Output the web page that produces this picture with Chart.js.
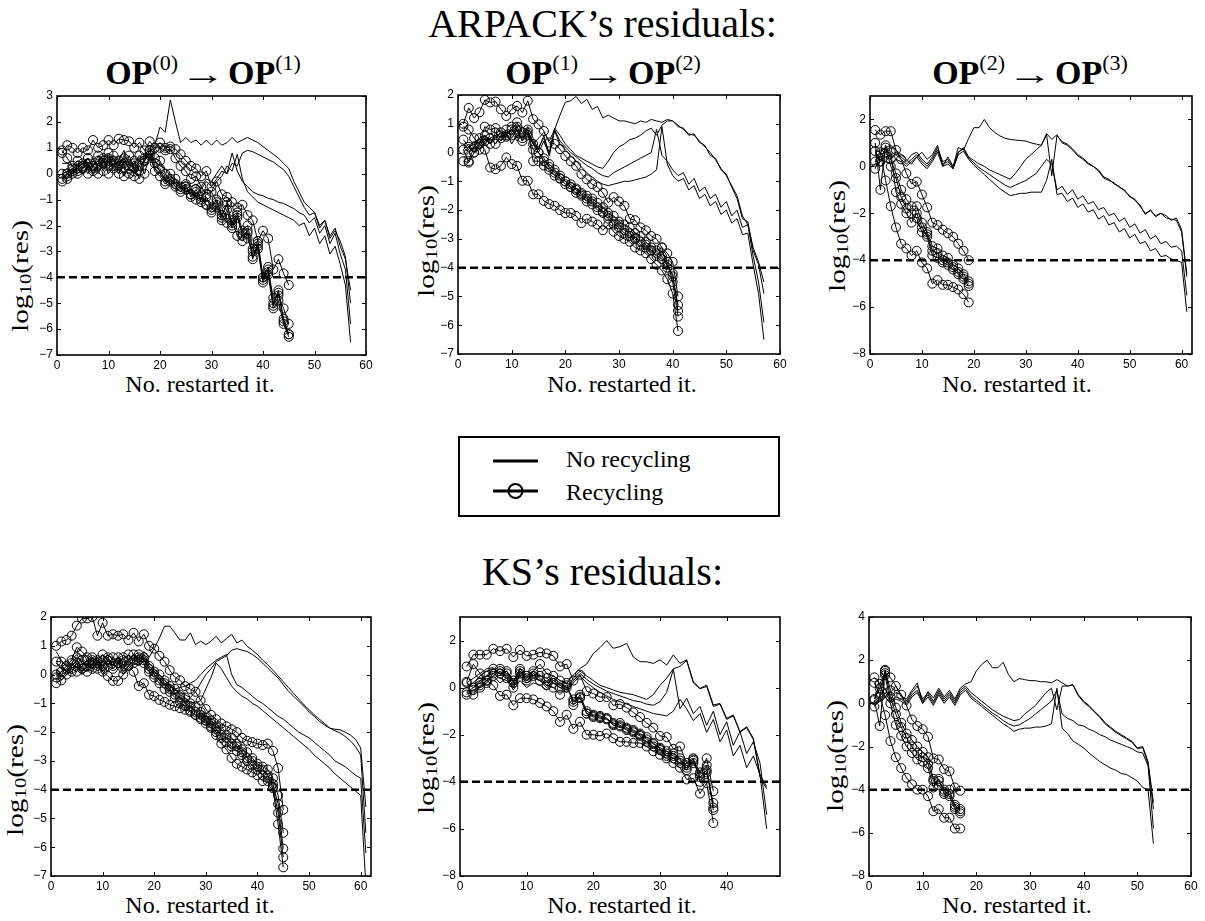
<!DOCTYPE html>
<html>
<head>
<meta charset="utf-8">
<script src="https://cdn.jsdelivr.net/npm/chart.js@4.4.0/dist/chart.umd.min.js"></script>
<style>
  body { margin: 0; background: #fff; }
  #page { position: relative; width: 1205px; height: 921px; overflow: hidden;
          font-family: 'Liberation Serif', 'Times New Roman', serif; color: #000; }
  .big { position: absolute; left: 0; width: 1205px; text-align: center; font-size: 40px; line-height: 40px; }
  .sub { position: absolute; width: 400px; text-align: center; font-size: 34px; line-height: 34px; white-space: nowrap; }
  .sub sup { font-size: 22px; vertical-align: 0; position: relative; top: -14px; font-weight: normal; }
  .sub .arr { display: inline-block; transform: scaleX(1.5); margin: 0 10px; font-size: 30px; }
  .xl { position: absolute; width: 300px; text-align: center; font-size: 24px; line-height: 24px; white-space: nowrap; }
  .yl { position: absolute; font-size: 24px; line-height: 24px; white-space: nowrap;
        transform: translate(-50%, -50%) rotate(-90deg) scaleX(1.22); }
  .yl sub { font-size: 17px; vertical-align: -3px; }
  canvas { position: absolute; }
</style>
</head>
<body>
<div id="page">
  <div class="big" style="top:4px">ARPACK’s residuals:</div>
  <div class="sub" style="left:3px;top:56px"><b>OP</b><sup>(0)</sup><span class="arr">→</span><b>OP</b><sup>(1)</sup></div>
  <div class="sub" style="left:403px;top:56px"><b>OP</b><sup>(1)</sup><span class="arr">→</span><b>OP</b><sup>(2)</sup></div>
  <div class="sub" style="left:830px;top:56px"><b>OP</b><sup>(2)</sup><span class="arr">→</span><b>OP</b><sup>(3)</sup></div>

  <div class="xl" style="left:50px;top:372px">No. restarted it.</div>
  <div class="xl" style="left:472px;top:372px">No. restarted it.</div>
  <div class="xl" style="left:867px;top:372px">No. restarted it.</div>

  <div class="yl" style="left:23px;top:276px">log<sub>10</sub>(res)</div>
  <div class="yl" style="left:429px;top:241px">log<sub>10</sub>(res)</div>
  <div class="yl" style="left:840px;top:236px">log<sub>10</sub>(res)</div>

  <svg style="position:absolute;left:458px;top:436px" width="322" height="81">
    <rect x="1" y="1" width="320" height="79" fill="#fff" stroke="#000" stroke-width="2"/>
    <line x1="35" y1="25" x2="80" y2="25" stroke="#000" stroke-width="3"/>
    <line x1="35" y1="55" x2="80" y2="55" stroke="#000" stroke-width="3"/>
    <circle cx="57.5" cy="55" r="7" fill="none" stroke="#000" stroke-width="2"/>
    <text x="108" y="31" font-family="Liberation Serif" font-size="24">No recycling</text>
    <text x="108" y="64" font-family="Liberation Serif" font-size="24">Recycling</text>
  </svg>

  <div class="big" style="top:552px">KS’s residuals:</div>

  <div class="xl" style="left:50px;top:893px">No. restarted it.</div>
  <div class="xl" style="left:472px;top:893px">No. restarted it.</div>
  <div class="xl" style="left:867px;top:893px">No. restarted it.</div>

  <div class="yl" style="left:18px;top:780px">log<sub>10</sub>(res)</div>
  <div class="yl" style="left:429px;top:758px">log<sub>10</sub>(res)</div>
  <div class="yl" style="left:838px;top:756px">log<sub>10</sub>(res)</div>
</div>

<script>
// tolerance line
const tolLevel = -4;

// tick labels
const xTicks60 = [0, 10, 20, 30, 40, 50, 60];
const xTicks40 = [0, 10, 20, 30, 40];
const yTicksM7to3 = [-7, -6, -5, -4, -3, -2, -1, 0, 1, 2, 3];
const yTicksM7to2 = [-7, -6, -5, -4, -3, -2, -1, 0, 1, 2];
const yTicksM8to2 = [-8, -6, -4, -2, 0, 2];
const yTicksM8to4 = [-8, -6, -4, -2, 0, 2, 4];

// ARPACK, OP(0) -> OP(1): log10 residual per restarted iteration (x = 1, 2, ...)
const arp01Plain = [
  [0.0,0.1,0.2,0.35,0.5,0.3,0.6,0.2,0.5,0.7, 0.3,0.5,0.9,0.3,0.4,0.6,0.7,1.0,1.1,1.8, 1.6,2.85,2.0,1.2,1.4,1.2,1.3,1.1,1.3,1.1, 1.3,1.1,1.2,1.4,1.2,1.3,1.4,1.3,1.2,1.05, 0.9,0.75,0.6,0.4,0.2,-0.3,-0.7,-1.1,-1.3,-1.5, -2.0,-1.8,-2.5,-2.2,-2.6,-3.2,-5.0],
  [0.4,0.4,0.3,0.5,0.4,0.6,0.3,0.5,0.7,0.4, 0.6,0.3,0.7,0.4,0.2,0.5,0.6,0.9,0.5,0.3, 0.2,-0.1,-0.2,-0.4,-0.3,-0.5,-0.4,-0.6,-0.3,-0.5, -0.2,0.1,0.0,0.4,0.3,0.8,0.9,0.85,0.75,0.65, 0.55,0.45,0.3,0.15,-0.1,-0.5,-0.9,-1.3,-1.6,-1.5, -2.1,-1.8,-2.4,-2.1,-2.8,-3.3,-4.5],
  [-0.2,0.0,0.1,0.2,0.0,0.3,0.1,0.4,0.2,0.5, 0.1,0.4,0.6,0.2,0.0,0.3,0.5,0.8,0.3,0.1, -0.2,-0.3,-0.5,-0.4,-0.7,-0.6,-0.9,-0.5,-0.2,-0.3, 0.0,0.3,0.0,0.8,0.1,-0.3,-0.5,-0.7,-0.8,-0.85, -0.95,-1.0,-1.1,-1.15,-1.25,-1.35,-1.5,-1.6,-1.9,-1.7, -2.3,-2.0,-2.7,-2.3,-3.1,-3.7,-5.8],
  [0.1,0.2,0.0,0.3,0.2,0.4,0.0,0.3,0.5,0.2, 0.4,0.0,0.5,0.2,0.1,0.4,0.3,0.6,0.2,0.0, -0.3,-0.4,-0.6,-0.5,-0.8,-0.7,-0.9,-1.0,-0.6,-0.7, -0.3,-0.1,0.3,0.1,0.75,-0.2,-0.7,-0.9,-1.1,-1.2, -1.3,-1.4,-1.5,-1.6,-1.7,-1.8,-2.0,-1.9,-2.4,-2.1, -2.7,-2.4,-3.1,-2.8,-3.5,-4.3,-6.5]
];
const arp01Rec = [
  [0.8,1.1,1.0,0.8,1.0,0.9,1.3,1.0,1.1,1.3, 1.1,1.35,1.3,1.25,1.0,1.2,0.9,1.25,1.0,1.2, 1.0,1.05,0.95,0.75,0.5,0.3,0.2,-0.1,0.1,-0.5, -0.3,-0.8,-0.9,-1.1,-1.3,-1.2,-1.6,-1.8,-2.6,-2.2, -2.5,-3.7,-3.3,-3.85,-4.3],
  [0.9,0.6,0.3,0.5,0.2,0.6,0.3,0.7,0.4,0.8, 0.5,0.3,0.6,0.2,0.4,0.7,0.5,0.9,1.0,1.0, 0.9,0.95,0.6,0.3,0.1,-0.2,-0.1,-0.5,-0.8,-0.7, -1.1,-1.6,-1.2,-1.9,-1.5,-2.2,-2.0,-2.9,-2.6,-4.0, -3.6,-5.1,-4.5,-5.6,-6.2],
  [-0.3,-0.1,0.0,0.2,0.4,0.0,0.3,0.5,0.1,0.6, 0.2,0.0,0.4,0.7,0.2,-0.2,0.5,0.9,0.4,0.2, -0.3,0.0,-0.4,-0.5,-0.6,-0.8,-0.7,-1.1,-0.9,-1.4, -1.2,-1.7,-1.1,-2.0,-1.6,-2.4,-2.2,-3.2,-2.8,-4.1, -3.9,-5.2,-4.9,-5.8,-6.3],
  [-0.2,0.0,0.2,0.1,0.3,0.6,0.2,0.0,0.5,0.3, 0.7,0.4,-0.1,0.3,0.5,0.1,0.6,0.8,0.1,-0.1, -0.4,-0.2,-0.5,-0.7,-0.4,-0.9,-0.6,-1.0,-1.2,-1.5, -1.3,-1.8,-1.4,-2.1,-1.7,-2.3,-2.5,-3.0,-2.9,-4.2, -3.7,-4.8,-4.7,-5.2,-5.8],
  [0.0,-0.2,0.1,0.0,0.2,0.4,0.1,0.3,0.6,0.0, 0.3,0.5,0.2,0.0,-0.1,0.3,0.0,0.7,0.6,0.5, 0.0,-0.3,-0.2,-0.6,-0.5,-0.8,-1.0,-0.9,-1.2,-1.3, -1.0,-1.6,-1.9,-1.8,-2.4,-2.6,-2.3,-3.3,-2.7,-4.0, -3.8,-5.0,-4.6,-5.7,-6.2]
];

// ARPACK, OP(1) -> OP(2)
const arp12Plain = [
  [0.0,0.2,0.3,0.1,0.4,0.5,0.6,0.4,0.7,0.8, 0.5,0.9,0.6,0.3,0.5,0.7,0.4,0.8, 1.3,1.75,1.8,1.95,1.7,1.85,1.5,1.6,1.2,1.3, 1.2,1.1,1.1,1.05,1.0,1.1,1.05,1.15,1.1,1.05, 1.15, 1.1,0.9,0.85,0.6,0.65,0.35,0.25,-0.1,-0.2,-0.6, -0.75,-1.2,-1.6,-2.3,-2.4,-3.4,-3.9,-4.9],
  [0.3,0.1,0.4,0.3,0.6,0.4,0.5,0.7,0.6,0.5, 0.8,0.4,0.9,0.5,0.1,0.6,-0.1,0.85, 0.6,0.3,0.1,-0.1,-0.2,-0.3,-0.4,-0.5,-0.55,-0.3, 0.0,0.2,0.3,0.45,0.5,0.6,0.75,0.85,0.6,0.95, 1.1,1.1, 0.95,0.8,0.65,0.6,0.4,0.2,0.0,-0.25,-0.55,-0.8, -1.15,-1.5,-2.2,-2.5,-3.3,-3.8,-4.5],
  [-0.2,0.0,0.2,0.4,0.3,0.5,0.3,0.6,0.5,0.7, 0.4,0.6,0.8,0.3,0.2,0.5,0.0,0.8, 0.4,0.2,0.0,-0.15,-0.3,-0.45,-0.55,-0.7, -0.8,-0.85,-0.7,-0.6,-0.5,-0.4,-0.3,-0.2,-0.1,0.0, 0.8,-0.1,-0.3,-0.6,-0.8,-0.7,-1.1,-0.9,-1.35,-1.2, -1.6,-1.45,-1.9,-1.7,-2.2,-2.0,-2.6,-2.5,-3.6,-4.5, -5.9],
  [0.1,0.3,0.0,0.2,0.5,0.3,0.6,0.4,0.7,0.3, 0.6,0.5,0.7,0.4,0.0,0.4,-0.1,0.75, 0.3,0.1,-0.1,-0.3,-0.5,-0.7,-0.85,-1.0, -1.1,-1.15,-1.1,-1.05,-1.0,-1.0,-0.95,-0.9,-0.85,-0.75, -0.6,0.9,-0.4,-0.8,-1.0,-0.9,-1.3,-1.15,-1.6,-1.45, -1.85,-1.7,-2.15,-2.0,-2.45,-2.3,-2.85,-2.8,-3.9,-4.9, -6.5]
];
const arp12Rec = [
  [1.0,1.55,1.2,1.4,1.83,1.74,1.77,1.5,1.27,1.5, 1.62,1.39,1.8,1.16,0.98,0.75,0.35,0.3,0.12,-0.12, -0.3,-0.46,-0.75,-0.93,-1.1,-1.2,-1.4,-1.74,-1.55,-1.7, -1.85,-2.3,-2.35,-2.6,-2.7,-2.9,-3.0,-3.3,-3.5,-3.8, -5.0],
  [0.9,0.8,0.5,0.3,0.1,-0.52,-0.58,-0.46,-0.17,-0.4, -0.46,-0.98,-0.98,-1.45,-1.45,-1.68,-1.79,-1.85,-2.0,-2.1, -2.1,-2.2,-2.45,-2.3,-2.4,-2.5,-2.7,-2.5,-2.75,-2.9, -3.0,-3.1,-3.3,-3.4,-3.5,-3.7,-3.9,-4.1,-4.4,-4.9, -6.2],
  [0.45,0.2,0.0,0.3,0.9,0.8,0.85,0.7,0.6,0.8, 1.05,0.7,0.8,-0.3,-0.3,-0.45,-0.6,-0.8,-0.9,-1.0, -1.2,-1.25,-1.4,-1.5,-1.6,-1.75,-1.9,-2.1,-2.2,-2.4, -2.5,-2.6,-2.8,-2.9,-3.1,-3.3,-3.4,-3.3,-4.0,-4.2, -5.5],
  [0.1,-0.3,0.2,0.5,0.6,0.3,0.7,0.5,0.8,0.6, 0.9,0.5,0.7,0.3,0.0,-0.2,-0.5,-0.7,-0.8,-1.0, -1.1,-1.3,-1.45,-1.6,-1.7,-1.9,-2.05,-2.2,-2.4,-2.5, -2.7,-2.8,-2.95,-3.1,-3.2,-3.4,-3.5,-3.6,-3.9,-4.3, -5.3],
  [-0.3,-0.35,0.0,0.1,0.4,0.5,0.3,0.6,0.55,0.9, 0.8,0.4,0.6,0.1,0.0,-0.3,-0.4,-0.6,-0.9,-1.1, -1.2,-1.4,-1.5,-1.7,-1.8,-2.0,-2.1,-2.3,-2.5,-2.6, -2.8,-2.9,-3.0,-3.2,-3.3,-3.4,-3.6,-3.7,-3.8,-4.5, -5.7]
];

// ARPACK, OP(2) -> OP(3)
const arp23Plain = [
  [0.7,0.6,0.8,0.9,0.7,0.5,0.3,0.1,0.4,0.6, 0.3,0.5,0.9,0.0,0.4,0.0,0.8,0.7, 1.2,1.65,1.65,2.0,1.65,1.45,1.3,1.2,1.15,1.12, 1.1,1.08,1.0,0.95,0.9,1.4,1.15,1.35, 1.0,0.9,0.7,0.45,0.3,0.1,0.0,-0.2,-0.5,-0.6, -0.7,-0.9,-1.0,-1.3,-1.4,-1.7,-2.0,-1.9,-2.1,-2.0, -2.1,-2.3,-2.2,-2.7,-4.6],
  [0.5,0.3,0.2,0.5,0.6,0.4,0.2,0.5,0.6,0.3, 0.1,0.4,0.8,0.2,0.3,-0.1,0.6,0.8, 0.4,0.25,0.1,0.0,-0.15,-0.25,-0.35,-0.45,-0.55,-0.3, 0.0,0.3,0.5,0.7,0.9,1.35,-0.4,1.3, 1.05,0.95,0.75,0.5,0.35,0.15,0.0,-0.15,-0.45,-0.55, -0.75,-0.85,-1.05,-1.25,-1.45,-1.65,-2.05,-1.85,-2.15,-2.0, -2.2,-2.25,-2.3,-2.8,-4.7],
  [0.1,0.2,0.4,0.3,0.5,0.3,0.1,0.3,0.5,0.2, 0.0,0.3,0.7,0.1,0.2,0.0,0.6,0.75, 0.35,0.15,-0.05,-0.2,-0.35,-0.5,-0.65,-0.8,-0.9,-0.8, -0.7,-0.6,-0.45,-0.3,0.0,0.3,0.1,-1.0, -0.85,-1.2,-1.0,-1.4,-1.25,-1.6,-1.5,-1.85,-1.75,-2.1, -2.0,-2.35,-2.2,-2.6,-2.45,-2.85,-2.7,-3.1,-2.95,-3.3, -3.2,-3.45,-3.4,-3.6,-5.5],
  [0.3,0.0,0.2,0.1,0.3,0.2,0.0,0.2,0.4,0.1, -0.1,0.2,0.6,0.0,0.1,-0.1,0.5,0.65, 0.3,0.05,-0.15,-0.35,-0.55,-0.75,-0.95,-1.1,-1.25,-1.2, -1.15,-1.15,-1.1,-1.1,-1.1,-0.6,0.3,-1.2, -1.15,-1.5,-1.35,-1.75,-1.6,-1.95,-1.85,-2.25,-2.1,-2.5, -2.4,-2.8,-2.65,-3.05,-2.9,-3.3,-3.2,-3.6,-3.5,-3.85, -3.8,-3.95,-4.0,-4.1,-6.2]
];
const arp23Rec = [
  [1.55,1.35,1.5,1.5,0.7,0.3,-0.3,-0.75,-0.65,-1.2, -1.75,-2.4,-2.5,-2.7,-2.85,-3.0,-3.3,-3.6,-4.0],
  [0.2,0.6,-0.6,-1.7,-2.6,-3.3,-3.5,-3.8,-3.6,-4.1, -4.35,-5.0,-4.85,-5.05,-5.05,-5.15,-5.25,-5.45,-5.8],
  [1.0,-1.0,0.9,0.3,-0.3,-1.0,-1.4,-1.7,-1.7,-2.4, -2.8,-3.4,-3.5,-3.8,-3.9,-4.2,-4.35,-4.6,-4.9],
  [0.65,0.2,0.8,0.0,-0.5,-1.3,-1.8,-2.0,-2.2,-2.8, -2.9,-3.6,-3.7,-4.0,-4.1,-4.3,-4.5,-4.7,-5.0],
  [-0.1,0.5,0.6,0.6,-1.1,-1.6,-2.0,-2.4,-2.0,-2.6, -3.0,-3.8,-3.9,-4.1,-4.2,-4.4,-4.6,-4.8,-5.1]
];

// KS, OP(0) -> OP(1)
const ks01Plain = [
  [0.8,0.5,0.3,0.5,0.7,0.4,0.3,0.5,0.6,0.4, 0.7,0.5,0.6,0.3,0.5,0.7,0.6,0.8, 0.6,0.9,1.27,1.68,1.68,1.45,1.2,1.2,1.45,1.04, 1.16,1.04,1.16,1.33,1.1,1.25,1.4,1.1,1.2,0.98, 0.85,0.7,0.5,0.34,0.15,-0.05,-0.25,-0.45,-0.65,-0.85, -1.05,-1.22,-1.4,-1.55,-1.7,-1.86,-1.9,-1.92,-2.0,-2.1, -2.25,-2.55,-4.6],
  [0.4,0.2,0.1,0.3,0.5,0.2,0.4,0.3,0.6,0.2, 0.5,0.4,0.6,0.2,0.4,0.6,0.5,0.7, 0.4,0.2,0.0,-0.2,-0.35,-0.5,-0.6,-0.7,-0.8,-0.6, -0.3,0.0,0.2,0.45,0.55,0.65,0.85,0.9,0.85, 0.8,0.7,0.57,0.4,0.22,0.05,-0.12,-0.35,-0.58,-0.75, -0.93,-1.1,-1.3,-1.45,-1.63,-1.75,-1.86,-1.95,-2.03,-2.15, -2.3,-2.5,-2.8,-5.5],
  [0.2,0.0,0.1,0.2,0.4,0.1,0.3,0.2,0.5,0.1, 0.4,0.3,0.5,0.1,0.3,0.5,0.4,0.6, 0.3,0.1,-0.1,-0.3,-0.4,-0.5,-0.45,-0.4,-0.3,-0.2, 0.0,0.2,0.35,0.5,0.6,0.7,0.0,-0.35,-0.45, -0.6,-0.75,-0.9,-1.0,-1.15,-1.3,-1.45,-1.55,-1.7,-1.85, -2.0,-2.1,-2.2,-2.35,-2.5,-2.65,-2.8,-3.0,-3.1,-3.2, -3.35,-3.5,-3.6,-6.2],
  [0.0,-0.2,0.0,0.1,0.3,0.0,0.2,0.1,0.4,0.0, 0.3,0.2,0.4,0.0,0.2,0.4,0.3,0.5, 0.2,0.0,-0.2,-0.4,-0.55,-0.7,-0.8,-0.9,-0.95,-1.0, -0.9,-0.5,-0.1,0.4,0.2,-0.1,-0.4,-0.6,-0.75, -0.85,-1.0,-1.1,-1.25,-1.4,-1.55,-1.7,-1.85,-2.0,-2.15, -2.3,-2.45,-2.6,-2.8,-2.95,-3.1,-3.25,-3.45,-3.6,-3.75, -3.9,-4.05,-4.2,-7.3]
];
const ks01Rec = [
  [1.0,1.15,1.2,1.35,1.7,1.95,1.95,2.0,1.35,1.8, 1.35,1.4,1.35,1.4,1.2,1.45,1.15,1.4,1.0,0.9, 0.65,0.45,0.15,-0.1,-0.2,-0.4,-0.5,-0.6,-0.9,-1.2, -1.4,-1.55,-1.7,-1.8,-1.9,-2.0,-2.2,-2.3,-2.35,-2.4, -2.45,-2.4,-2.65,-3.25,-4.7],
  [0.45,0.45,0.3,0.5,0.95,0.8,0.6,0.5,0.3,0.1, -0.05,-0.22,-0.22,0.0,0.3,0.1,-0.4,-0.3,-0.7,-0.75, -0.88,-0.95,-1.05,-1.1,-1.17,-1.22,-1.3,-1.4,-1.5,-1.6, -1.8,-2.1,-2.4,-2.6,-2.9,-3.1,-3.2,-3.3,-3.4,-3.5, -3.7,-3.7,-3.95,-5.2,-6.7],
  [-0.1,0.1,0.2,0.4,0.6,0.5,0.3,0.6,0.4,0.7, 0.5,0.3,0.6,0.5,0.7,0.4,0.6,0.5,0.3,0.1, 0.0,-0.2,-0.4,-0.5,-0.7,-0.8,-1.0,-1.1,-1.3,-1.5, -1.6,-1.8,-1.9,-2.1,-2.2,-2.4,-2.6,-2.7,-2.9,-3.1, -3.2,-3.3,-3.6,-4.2,-5.5],
  [-0.3,-0.2,0.0,0.2,0.1,0.3,0.5,0.2,0.5,0.3, 0.6,0.2,0.4,0.6,0.3,0.5,0.7,0.6,0.2,0.0, -0.2,-0.3,-0.5,-0.7,-0.8,-1.0,-1.1,-1.3,-1.4,-1.6, -1.7,-1.9,-2.1,-2.2,-2.4,-2.5,-2.7,-2.9,-3.0,-3.2, -3.3,-3.5,-3.8,-4.5,-6.05],
  [0.0,0.1,0.3,0.1,0.4,0.2,0.1,0.4,0.2,0.5, 0.3,0.6,0.4,0.2,0.5,0.7,0.5,0.4,0.1,-0.1, -0.3,-0.5,-0.6,-0.8,-0.95,-1.1,-1.25,-1.4,-1.55,-1.7, -1.85,-2.0,-2.2,-2.35,-2.5,-2.65,-2.8,-3.0,-3.15,-3.3, -3.5,-3.6,-3.9,-4.8,-6.35]
];

// KS, OP(1) -> OP(2)
const ks12Plain = [
  [0.2,0.4,0.6,0.8,0.85,0.55,0.7,0.25,0.82,0.4, 0.68,0.54,0.25,0.5,0.3,0.18,0.54,0.82, 1.0,1.45,1.7,2.0,1.67,1.74,1.88,1.3,1.1,1.1, 1.03,1.18,0.96,1.39,1.03,1.18, 0.25,-0.03,0.11,-0.74,-0.67,-1.3,-1.16,-1.87,-1.66,-2.15, -3.7,-4.2],
  [0.0,0.2,0.5,0.7,0.8,0.6,0.5,0.1,0.7,0.3, 0.6,0.4,0.1,0.4,0.2,0.0,0.4,0.7, 0.5,0.3,0.1,0.0,-0.1,-0.2,-0.25,-0.3,-0.4,-0.5, -0.3,0.1,0.4,0.8,0.9,1.15, 0.2,-0.05,0.05,-0.8,-0.7,-1.35,-1.2,-1.9,-1.7,-2.2, -3.8,-4.3],
  [-0.2,0.0,0.3,0.5,0.6,0.4,0.3,0.0,0.5,0.2, 0.4,0.3,0.0,0.3,0.1,-0.1,0.3,0.6, 0.35,0.15,0.0,-0.15,-0.25,-0.35,-0.45,-0.55,-0.6,-0.7, -0.75,-0.6,-0.2,0.78,-0.9,-0.45, -1.1,-0.8,-1.6,-1.0,-2.0,-1.45,-2.45,-1.87,-2.8,-2.3, -3.2,-5.4],
  [0.1,0.2,0.0,0.3,0.5,0.2,0.4,-0.1,0.3,0.0, 0.2,0.1,-0.1,0.2,0.0,-0.2,0.2,0.5, 0.2,0.0,-0.2,-0.35,-0.5,-0.6,-0.7,-0.8,-0.9,-1.0, -1.1,-1.15,-1.2,-1.0,-0.5,-0.9, -1.4,-1.1,-1.9,-1.35,-2.3,-1.8,-2.9,-2.45,-3.4,-2.9, -3.7,-6.0]
];
const ks12Rec = [
  [0.9,1.4,1.4,1.4,1.65,1.55,1.65,1.3,1.6,1.35, 1.4,1.5,1.45,1.35,0.9,1.0,0.3,0.55,-0.15,-0.25, -0.4,-0.4,-0.75,-0.7,-0.85,-1.05,-1.25,-1.5,-1.7,-2.05, -2.1,-2.6,-2.5,-3.2,-3.05,-3.6,-3.0,-4.4],
  [0.25,1.0,0.6,0.3,0.1,-0.35,-0.3,-0.75,-0.45,-0.45, -0.5,-0.65,-0.8,-1.0,-1.45,-1.15,-1.75,-1.45,-2.0,-2.0, -2.05,-1.95,-2.15,-2.3,-2.3,-2.35,-2.35,-2.5,-2.7,-2.85, -3.0,-3.2,-3.4,-3.9,-3.85,-4.5,-4.05,-5.75],
  [-0.3,-0.1,0.0,0.3,0.6,0.8,0.6,0.2,0.8,0.5, 0.7,1.0,0.6,0.5,0.3,0.2,-0.74,-0.3,-1.0,-1.15, -1.2,-1.3,-1.55,-1.5,-1.7,-1.8,-1.95,-2.1,-2.4,-2.55, -2.7,-2.9,-3.0,-3.5,-3.1,-3.8,-3.5,-5.1],
  [0.2,0.0,0.2,0.5,0.8,0.6,0.7,0.3,0.7,0.4, 0.6,0.5,0.4,0.2,0.0,0.1,-0.6,-0.45,-1.1,-1.2, -1.3,-1.35,-1.5,-1.6,-1.75,-1.85,-2.0,-2.2,-2.35,-2.6, -2.8,-2.8,-3.1,-3.3,-3.2,-3.7,-3.3,-5.2],
  [-0.2,-0.3,0.1,0.2,0.5,0.7,0.4,0.0,0.6,0.3, 0.5,0.3,0.1,0.0,-0.3,0.0,-0.5,-0.4,-1.1,-1.25, -1.25,-1.3,-1.6,-1.65,-1.8,-1.9,-2.05,-2.3,-2.5,-2.65, -2.9,-3.0,-3.2,-3.4,-3.0,-4.0,-3.6,-4.9]
];

// KS, OP(2) -> OP(3)
const ks23Plain = [
  [0.2,0.9,0.3,0.5,0.8,0.3,0.2,0.6,0.95,0.0, 0.55,0.25,0.7,0.3,0.6,0.2,0.7,0.9, 1.0,1.5,1.8,2.0,1.65,1.65,1.9,1.33,1.0,1.15, 1.1,1.05,1.05,1.0,1.0,0.95,1.1,0.95, 0.8,0.87,0.4,0.1,-0.1,-0.37,-0.6,-0.9,-1.1,-1.3, -1.45,-1.6,-1.76,-2.07,-2.0,-2.7,-4.6],
  [0.1,0.3,0.7,0.2,0.5,0.4,0.1,0.5,0.8,0.2, 0.5,0.1,0.6,0.2,0.5,0.1,0.6,0.8, 0.5,0.3,0.1,-0.1,-0.3,-0.45,-0.6,-0.7,-0.8,-0.75, -0.5,-0.3,-0.1,0.2,0.5,0.7,-0.3,0.8, 0.8,0.85,0.35,0.05,-0.15,-0.4,-0.65,-0.95,-1.15,-1.35, -1.5,-1.65,-1.8,-2.1,-2.05,-2.8,-4.9],
  [0.0,0.2,0.5,0.1,0.3,0.2,0.0,0.4,0.6,0.1, 0.4,0.0,0.5,0.1,0.4,0.0,0.5,0.7, 0.35,0.15,-0.05,-0.25,-0.45,-0.6,-0.8,-0.95,-1.05,-1.0, -0.85,-0.7,-0.5,-0.3,-0.1,0.1,0.6,-0.5, -0.7,-0.8,-1.0,-1.05,-1.2,-1.3,-1.45,-1.55,-1.7,-1.8, -1.9,-2.0,-2.1,-2.25,-2.3,-2.9,-5.8],
  [-0.1,0.1,0.3,0.0,0.2,0.1,-0.1,0.3,0.5,0.0, 0.3,-0.1,0.4,0.0,0.3,-0.1,0.4,0.6, 0.25,0.05,-0.15,-0.35,-0.55,-0.75,-0.95,-1.1,-1.3,-1.2, -1.15,-1.15,-1.1,-1.1,-1.05,-0.95,0.7,-1.15, -1.4,-1.75,-1.9,-2.07,-2.3,-2.5,-2.7,-2.85,-3.0,-3.1, -3.25,-3.3,-3.45,-3.6,-3.9,-4.0,-6.5]
];
const ks23Rec = [
  [1.2,0.9,1.4,1.2,0.8,0.4,-0.1,-0.75,-1.05,-1.2, -1.55,-2.55,-2.6,-3.05,-3.15,-3.9,-4.05],
  [0.95,0.4,-0.55,-1.75,-2.5,-3.0,-3.45,-3.75,-4.0,-4.0, -4.3,-5.0,-4.9,-5.3,-5.3,-5.8,-5.8],
  [0.15,-1.05,1.55,0.6,-0.2,-0.9,-1.4,-1.7,-2.0,-2.25, -2.5,-3.5,-3.6,-4.0,-4.0,-4.8,-4.9],
  [-0.15,0.3,1.5,0.3,-0.5,-1.1,-1.6,-2.0,-2.3,-2.5, -2.8,-3.6,-3.8,-4.1,-4.2,-4.7,-5.0],
  [0.2,0.7,1.3,0.0,-1.0,-1.5,-2.0,-2.3,-2.6,-2.7, -3.0,-3.9,-3.5,-4.2,-4.3,-4.9,-5.1]
];

// plot-area placement on the page: [left, top, width, height]
const panels = [
  { plain: arp01Plain, rec: arp01Rec, area: [57, 96, 309, 259],  xMax: 60, yMin: -7, yMax: 3, xTicks: xTicks60, yTicks: yTicksM7to3 },
  { plain: arp12Plain, rec: arp12Rec, area: [458, 95, 322, 259], xMax: 60, yMin: -7, yMax: 2, xTicks: xTicks60, yTicks: yTicksM7to2 },
  { plain: arp23Plain, rec: arp23Rec, area: [870, 96, 322, 258], xMax: 62, yMin: -8, yMax: 3, xTicks: xTicks60, yTicks: yTicksM8to2 },
  { plain: ks01Plain,  rec: ks01Rec,  area: [51, 617, 320, 259], xMax: 62, yMin: -7, yMax: 2, xTicks: xTicks60, yTicks: yTicksM7to2 },
  { plain: ks12Plain,  rec: ks12Rec,  area: [460, 617, 320, 259], xMax: 48, yMin: -8, yMax: 3, xTicks: xTicks40, yTicks: yTicksM8to2 },
  { plain: ks23Plain,  rec: ks23Rec,  area: [869, 617, 322, 259], xMax: 60, yMin: -8, yMax: 4, xTicks: xTicks60, yTicks: yTicksM8to4 }
];

const tickFont = { family: "'Liberation Sans', Arial, sans-serif", size: 12 };
const fmt = v => (v < 0 ? '\u2212' + (-v) : String(v));

// box around the axes with inward ticks on all four sides, like matlab
const framePlugin = {
  id: 'frame',
  afterDraw(chart) {
    const { ctx, chartArea: a, scales } = chart;
    ctx.save();
    ctx.strokeStyle = '#000';
    ctx.lineWidth = 1;
    ctx.beginPath();
    scales.x.ticks.forEach(t => {
      const px = Math.round(scales.x.getPixelForValue(t.value)) + 0.5;
      ctx.moveTo(px, a.bottom); ctx.lineTo(px, a.bottom - 4);
      ctx.moveTo(px, a.top); ctx.lineTo(px, a.top + 4);
    });
    scales.y.ticks.forEach(t => {
      const py = Math.round(scales.y.getPixelForValue(t.value)) + 0.5;
      ctx.moveTo(a.left, py); ctx.lineTo(a.left + 4, py);
      ctx.moveTo(a.right, py); ctx.lineTo(a.right - 4, py);
    });
    ctx.stroke();
    ctx.lineWidth = 1.6;
    ctx.strokeRect(a.left, a.top, a.right - a.left, a.bottom - a.top);
    ctx.restore();
  }
};

function series(values, withMarkers) {
  return {
    data: values.map((v, i) => ({ x: i + 1, y: v })),
    borderColor: '#000',
    borderWidth: 1,
    fill: false,
    tension: 0,
    pointStyle: 'circle',
    pointRadius: withMarkers ? 4.5 : 0,
    pointBorderColor: '#000',
    pointBackgroundColor: 'rgba(0,0,0,0)',
    pointBorderWidth: 1
  };
}

const page = document.getElementById('page');

panels.forEach(p => {
  const [left, top, w, h] = p.area;
  const cv = document.createElement('canvas');
  cv.width = w + 70;
  cv.height = h + 42;
  cv.style.left = (left - 50) + 'px';
  cv.style.top = (top - 12) + 'px';
  page.appendChild(cv);

  // dashed tolerance line first so it is drawn on top
  const datasets = [{
    data: [{ x: 0, y: tolLevel }, { x: p.xMax, y: tolLevel }],
    borderColor: '#000', borderWidth: 2.5, borderDash: [8, 4], pointRadius: 0, fill: false
  }];
  p.rec.forEach(v => datasets.push(series(v, true)));
  p.plain.forEach(v => datasets.push(series(v, false)));

  new Chart(cv, {
    type: 'line',
    data: { datasets },
    options: {
      responsive: false,
      animation: false,
      events: [],
      layout: { padding: { top: 12, right: 20, left: 0, bottom: 0 } },
      plugins: { legend: { display: false }, tooltip: { enabled: false } },
      scales: {
        x: {
          type: 'linear', min: 0, max: p.xMax,
          grid: { display: false, drawTicks: false },
          border: { display: false },
          afterBuildTicks: s => { s.ticks = p.xTicks.map(v => ({ value: v })); },
          afterFit: s => { s.height = 30; },
          ticks: { color: '#000', font: tickFont, padding: 3, maxRotation: 0, autoSkip: false, callback: fmt }
        },
        y: {
          type: 'linear', min: p.yMin, max: p.yMax,
          grid: { display: false, drawTicks: false },
          border: { display: false },
          afterBuildTicks: s => { s.ticks = p.yTicks.map(v => ({ value: v })); },
          afterFit: s => { s.width = 50; },
          ticks: { color: '#000', font: tickFont, padding: 4, autoSkip: false, callback: fmt }
        }
      }
    },
    plugins: [framePlugin]
  });
});
</script>
</body>
</html>
